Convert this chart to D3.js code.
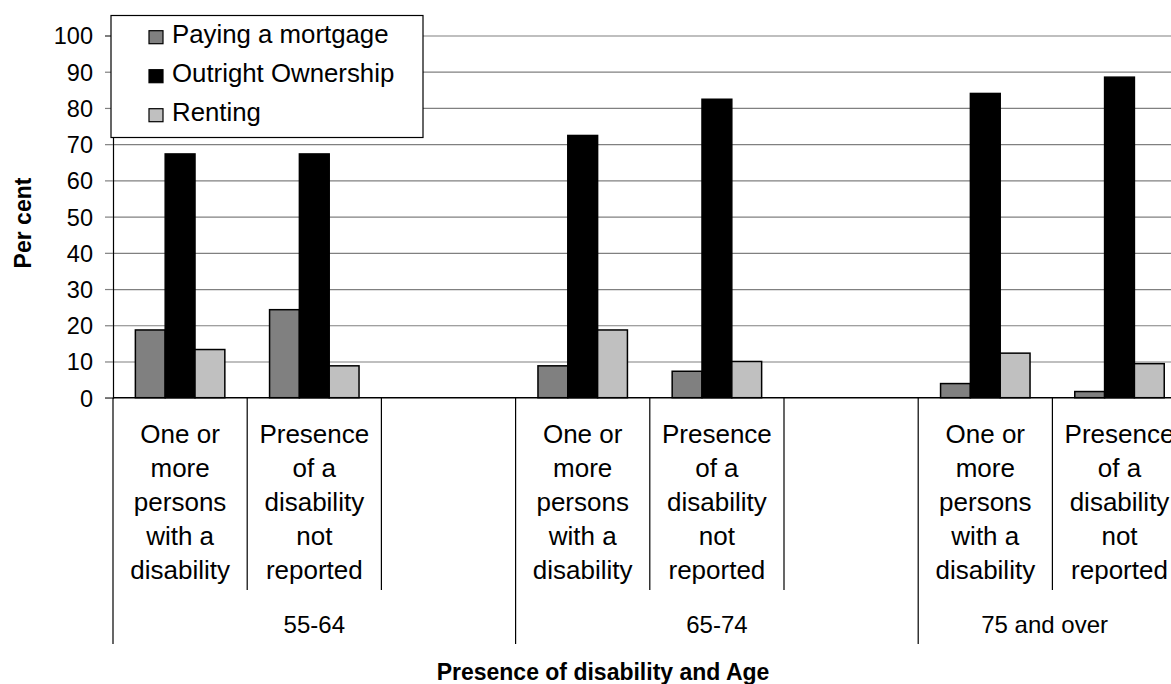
<!DOCTYPE html>
<html>
<head>
<meta charset="utf-8">
<script src="https://cdn.jsdelivr.net/npm/d3@7"></script>
<style>
  html, body { margin: 0; padding: 0; background: #fff; }
  svg { display: block; font-family: "Liberation Sans", Arial, sans-serif; }
</style>
</head>
<body>
<svg id="chart" width="1171" height="684"></svg>
<script>
// ---- data ----
const groups = ["55-64", "65-74", "75 and over"];
const categoryLines = [
  ["One or", "more", "persons", "with a", "disability"],
  ["Presence", "of a", "disability", "not", "reported"],
  []
];
const seriesNames = ["Paying a mortgage", "Outright Ownership", "Renting"];
const mortgage = [18.7, 24.3, 8.8, 7.3, 3.9, 1.7];
const outright = [67.3, 67.3, 72.4, 82.4, 84.0, 88.5];
const renting  = [13.3, 8.8, 18.7, 10.0, 12.3, 9.4];
const yTicks = [0, 10, 20, 30, 40, 50, 60, 70, 80, 90, 100];
const colors = ["#808080", "#000000", "#c0c0c0"];

// ---- layout ----
const W = 1171, H = 684;
const x0 = 113, slotW = 134.2;
const yTop = 35.5, yBot = 397.7;
const svg = d3.select("#chart");

const slots = [];
groups.forEach((g, gi) => categoryLines.forEach((c, ci) => slots.push({g, gi, ci, key: gi + "-" + ci})));
const x = d3.scaleBand().domain(slots.map(s => s.key)).range([x0, x0 + slots.length * slotW]).padding(0);
const xs = d3.scaleBand().domain(seriesNames).range([0, x.bandwidth()]).paddingInner(0).paddingOuter(0.75);
const y = d3.scaleLinear().domain([0, 100]).range([yBot, yTop]);

svg.append("defs").append("clipPath").attr("id", "clip")
  .append("rect").attr("x", 0).attr("y", 0).attr("width", W).attr("height", H);
const root = svg.append("g").attr("clip-path", "url(#clip)");

// gridlines
root.append("g").attr("class", "grid")
  .attr("transform", `translate(${x0},0)`)
  .call(d3.axisLeft(y).tickValues(yTicks.filter(d => d > 0)).tickSize(-(W - x0)).tickFormat(""))
  .call(g => g.select(".domain").remove())
  .call(g => g.selectAll("line").attr("stroke", "#808080").attr("stroke-width", 1.2));

// bars
const seriesVals = [mortgage, outright, renting];
const dataSlots = slots.filter(s => s.ci < 2);
dataSlots.forEach((s, i) => {
  seriesVals.forEach((vals, si) => {
    const v = vals[i];
    root.append("rect")
      .attr("x", x(s.key) + xs(seriesNames[si]))
      .attr("y", y(v))
      .attr("width", xs.bandwidth())
      .attr("height", y(0) - y(v))
      .attr("fill", colors[si])
      .attr("stroke", "#000")
      .attr("stroke-width", 1.5);
  });
});

// y axis
const yAxis = root.append("g").attr("transform", `translate(${x0},0)`)
  .call(d3.axisLeft(y).tickValues(yTicks).tickSize(8).tickPadding(12).tickFormat(d3.format("d")));
yAxis.select(".domain").attr("stroke", "#000").attr("stroke-width", 1.2);
yAxis.selectAll(".tick line").attr("stroke", "#808080").attr("stroke-width", 1.2);
yAxis.selectAll("text").attr("font-size", 23.5).attr("fill", "#000")
  .attr("font-family", "Liberation Sans, Arial, sans-serif").attr("dy", "0.36em");

// x axis line
root.append("line").attr("x1", x0).attr("x2", W).attr("y1", yBot).attr("y2", yBot)
  .attr("stroke", "#000").attr("stroke-width", 1.5);

// category separators
const innerBottom = 590, groupBottom = 644;
slots.forEach((s, i) => {
  const xl = x(s.key);
  root.append("line").attr("x1", xl).attr("x2", xl).attr("y1", yBot).attr("y2", s.ci === 0 ? groupBottom : innerBottom)
    .attr("stroke", "#000").attr("stroke-width", 1.2);
});
root.append("line").attr("x1", x0 + slots.length * slotW).attr("x2", x0 + slots.length * slotW)
  .attr("y1", yBot).attr("y2", groupBottom).attr("stroke", "#000");

// category labels
slots.forEach(s => {
  const cx = x(s.key) + x.bandwidth() / 2;
  const t = root.append("text").attr("text-anchor", "middle").attr("font-size", 26).attr("fill", "#000");
  categoryLines[s.ci].forEach((ln, li) => {
    t.append("tspan").attr("x", cx).attr("y", 443 + li * 34).text(ln);
  });
});

// group labels
groups.forEach((g, gi) => {
  const gs = x(gi + "-0");
  const ge = Math.min(gs + 3 * slotW, W);
  root.append("text").attr("x", (gs + ge) / 2).attr("y", 633).attr("text-anchor", "middle")
    .attr("font-size", 24).attr("fill", "#000").text(g);
});

// axis titles
root.append("text").attr("x", 603).attr("y", 680).attr("text-anchor", "middle")
  .attr("font-size", 23).attr("font-weight", "bold").text("Presence of disability and Age");
root.append("text").attr("transform", "translate(31,223) rotate(-90)").attr("text-anchor", "middle")
  .attr("font-size", 23).attr("font-weight", "bold").text("Per cent");

// legend
const leg = root.append("g");
leg.append("rect").attr("x", 111).attr("y", 15.5).attr("width", 312).attr("height", 122)
  .attr("fill", "#fff").attr("stroke", "#000").attr("stroke-width", 1.2);
seriesNames.forEach((n, i) => {
  const by = 42.7 + i * 39;
  leg.append("rect").attr("x", 149).attr("y", by - 12).attr("width", 14).attr("height", 13)
    .attr("fill", colors[i]).attr("stroke", "#000").attr("stroke-width", 1.2);
  leg.append("text").attr("x", 172).attr("y", by).attr("font-size", 25.8).attr("fill", "#000").text(n);
});
</script>
</body>
</html>
